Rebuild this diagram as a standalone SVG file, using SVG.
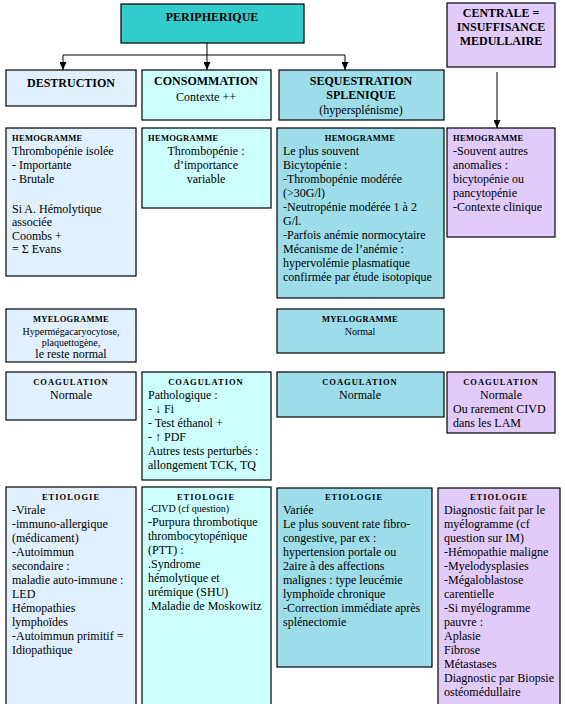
<svg xmlns="http://www.w3.org/2000/svg" width="565" height="704" viewBox="0 0 565 704">
<style>
text{font-family:"Liberation Serif","Times New Roman",serif;fill:#000;}
.b{stroke:#000;stroke-width:1.2;}
.l{fill:#E0F0FF;}
.c{fill:#CCFFFF;}
.s{fill:#9CDDE9;}
.p{fill:#E1CBFA;}
.t{fill:#33CCCC;}
.h{font-size:12px;font-weight:bold;}
.hd{font-size:8.5px;font-weight:bold;letter-spacing:0.3px;}
.hc{font-size:8.5px;font-weight:bold;letter-spacing:1px;}
.n{font-size:12px;}
.sm{font-size:10px;}
.m{text-anchor:middle;}
.ln{stroke:#000;stroke-width:1;fill:none;}
</style>
<defs>
<marker id="arr" markerWidth="8" markerHeight="7" refX="8" refY="3.5" orient="auto" markerUnits="userSpaceOnUse" viewBox="0 0 8 7">
<path d="M0,0 L8,3.5 L0,7 Z" fill="#000"/>
</marker>
</defs>

<g id="connectors">
<path class="ln" d="M207,43 V55"/>
<path class="ln" d="M63,55 H345"/>
<path class="ln" d="M63,55 V70" marker-end="url(#arr)"/>
<path class="ln" d="M207,55 V70" marker-end="url(#arr)"/>
<path class="ln" d="M345,55 V70" marker-end="url(#arr)"/>
<path class="ln" d="M497,72 V128" marker-end="url(#arr)"/>
</g>

<g id="peripherique">
<rect class="b t" x="121" y="4" width="183" height="39"/>
<text class="h m" x="212" y="21">PERIPHERIQUE</text>
</g>
<g id="centrale">
<rect class="b p" x="447" y="3" width="108" height="64"/>
<text class="h m" x="501" y="17">CENTRALE =</text>
<text class="h m" x="501" y="31">INSUFFISANCE</text>
<text class="h m" x="501" y="45">MEDULLAIRE</text>
</g>
<g id="destruction">
<rect class="b l" x="6" y="70" width="130" height="36"/>
<text class="h m" x="71" y="87">DESTRUCTION</text>
</g>
<g id="consommation">
<rect class="b c" x="142" y="70" width="129" height="50"/>
<text class="h m" x="206" y="85">CONSOMMATION</text>
<text class="n m" x="206" y="101">Contexte ++</text>
</g>
<g id="sequestration">
<rect class="b s" x="279" y="70" width="165" height="50"/>
<text class="h m" x="361" y="85">SEQUESTRATION</text>
<text class="h m" x="361" y="99">SPLENIQUE</text>
<text class="n m" x="361" y="114">(hypersplénisme)</text>
</g>

<g id="hemo-destruction">
<rect class="b l" x="6" y="128" width="130" height="148"/>
<text class="hd" x="12" y="141">HEMOGRAMME</text>
<text class="n" x="12" y="155">Thrombopénie isolée</text>
<text class="n" x="12" y="169">- Importante</text>
<text class="n" x="12" y="183">- Brutale</text>
<text class="n" x="12" y="213">Si A. Hémolytique</text>
<text class="n" x="12" y="226">associée</text>
<text class="n" x="12" y="240">Coombs +</text>
<text class="n" x="12" y="253">= Σ Evans</text>
</g>
<g id="hemo-consommation">
<rect class="b c" x="142" y="128" width="129" height="80"/>
<text class="hd" x="148" y="141">HEMOGRAMME</text>
<text class="n m" x="206" y="155">Thrombopénie :</text>
<text class="n m" x="206" y="169">d’importance</text>
<text class="n m" x="206" y="183">variable</text>
</g>
<g id="hemo-sequestration">
<rect class="b s" x="277" y="128" width="167" height="170"/>
<text class="hd m" x="360" y="141">HEMOGRAMME</text>
<text class="n" x="283" y="155">Le plus souvent</text>
<text class="n" x="283" y="169">Bicytopénie :</text>
<text class="n" x="283" y="183">-Thrombopénie modérée</text>
<text class="n" x="283" y="197">(&gt;30G/l)</text>
<text class="n" x="283" y="211">-Neutropénie modérée 1 à 2</text>
<text class="n" x="283" y="225">G/l.</text>
<text class="n" x="283" y="239">-Parfois anémie normocytaire</text>
<text class="n" x="283" y="253">Mécanisme de l’anémie :</text>
<text class="n" x="283" y="267">hypervolémie plasmatique</text>
<text class="n" x="283" y="281">confirmée par étude isotopique</text>
</g>
<g id="hemo-centrale">
<rect class="b p" x="447" y="128" width="108" height="109"/>
<text class="hd" x="453" y="141">HEMOGRAMME</text>
<text class="n" x="453" y="155">-Souvent autres</text>
<text class="n" x="453" y="169">anomalies :</text>
<text class="n" x="453" y="183">bicytopénie ou</text>
<text class="n" x="453" y="197">pancytopénie</text>
<text class="n" x="453" y="211">-Contexte clinique</text>
</g>

<g id="myelo-destruction">
<rect class="b l" x="6" y="309" width="130" height="53"/>
<text class="hd m" x="71" y="322">MYELOGRAMME</text>
<text class="sm m" x="71" y="335">Hypermégacaryocytose,</text>
<text class="sm m" x="71" y="346">plaquettogène,</text>
<text class="n m" x="71" y="358">le reste normal</text>
</g>
<g id="myelo-sequestration">
<rect class="b s" x="277" y="309" width="167" height="44"/>
<text class="hd m" x="360" y="322">MYELOGRAMME</text>
<text class="sm m" x="360" y="335">Normal</text>
</g>

<g id="coag-destruction">
<rect class="b l" x="6" y="372" width="130" height="48"/>
<text class="hc m" x="71" y="385">COAGULATION</text>
<text class="n m" x="71" y="399">Normale</text>
</g>
<g id="coag-consommation">
<rect class="b c" x="142" y="372" width="129" height="108"/>
<text class="hc m" x="206" y="385">COAGULATION</text>
<text class="n" x="148" y="399">Pathologique :</text>
<text class="n" x="148" y="413">- ↓ Fi</text>
<text class="n" x="148" y="427">- Test éthanol +</text>
<text class="n" x="148" y="441">- ↑ PDF</text>
<text class="n" x="148" y="455">Autres tests perturbés :</text>
<text class="n" x="148" y="469">allongement TCK, TQ</text>
</g>
<g id="coag-sequestration">
<rect class="b s" x="277" y="372" width="167" height="45"/>
<text class="hc m" x="360" y="385">COAGULATION</text>
<text class="n m" x="360" y="399">Normale</text>
</g>
<g id="coag-centrale">
<rect class="b p" x="447" y="372" width="108" height="61"/>
<text class="hc m" x="501" y="385">COAGULATION</text>
<text class="n m" x="501" y="399">Normale</text>
<text class="n" x="453" y="413">Ou rarement CIVD</text>
<text class="n" x="453" y="427">dans les LAM</text>
</g>

<g id="etio-destruction">
<rect class="b l" x="6" y="487" width="130" height="220"/>
<text class="hc m" x="71" y="500">ETIOLOGIE</text>
<text class="n" x="12" y="514">-Virale</text>
<text class="n" x="12" y="528">-immuno-allergique</text>
<text class="n" x="12" y="542">(médicament)</text>
<text class="n" x="12" y="556">-Autoimmun</text>
<text class="n" x="12" y="570">secondaire :</text>
<text class="n" x="12" y="584">maladie auto-immune :</text>
<text class="n" x="12" y="598">LED</text>
<text class="n" x="12" y="612">Hémopathies</text>
<text class="n" x="12" y="626">lymphoïdes</text>
<text class="n" x="12" y="640">-Autoimmun primitif =</text>
<text class="n" x="12" y="654">Idiopathique</text>
</g>
<g id="etio-consommation">
<rect class="b c" x="142" y="487" width="129" height="220"/>
<text class="hc m" x="206" y="500">ETIOLOGIE</text>
<text class="sm" x="148" y="512">-CIVD (cf question)</text>
<text class="n" x="148" y="526">-Purpura thrombotique</text>
<text class="n" x="148" y="540">thrombocytopénique</text>
<text class="n" x="148" y="554">(PTT) :</text>
<text class="n" x="148" y="568">.Syndrome</text>
<text class="n" x="148" y="582">hémolytique et</text>
<text class="n" x="148" y="596">urémique (SHU)</text>
<text class="n" x="148" y="610">.Maladie de Moskowitz</text>
</g>
<g id="etio-sequestration">
<rect class="b s" x="277" y="488" width="155" height="179"/>
<text class="hc m" x="354" y="500">ETIOLOGIE</text>
<text class="n" x="283" y="514">Variée</text>
<text class="n" x="283" y="528">Le plus souvent rate fibro-</text>
<text class="n" x="283" y="542">congestive, par ex :</text>
<text class="n" x="283" y="556">hypertension portale ou</text>
<text class="n" x="283" y="570">2aire à des affections</text>
<text class="n" x="283" y="584">malignes : type leucémie</text>
<text class="n" x="283" y="598">lymphoïde chronique</text>
<text class="n" x="283" y="612">-Correction immédiate après</text>
<text class="n" x="283" y="626">splénectomie</text>
</g>
<g id="etio-centrale">
<rect class="b p" x="438" y="488" width="122" height="220"/>
<text class="hc m" x="499" y="500">ETIOLOGIE</text>
<text class="n" x="444" y="514">Diagnostic fait par le</text>
<text class="n" x="444" y="528">myélogramme (cf</text>
<text class="n" x="444" y="542">question sur IM)</text>
<text class="n" x="444" y="556">-Hémopathie maligne</text>
<text class="n" x="444" y="570">-Myelodysplasies</text>
<text class="n" x="444" y="584">-Mégaloblastose</text>
<text class="n" x="444" y="598">carentielle</text>
<text class="n" x="444" y="612">-Si myélogramme</text>
<text class="n" x="444" y="626">pauvre :</text>
<text class="n" x="444" y="640">Aplasie</text>
<text class="n" x="444" y="654">Fibrose</text>
<text class="n" x="444" y="668">Métastases</text>
<text class="n" x="444" y="682">Diagnostic par Biopsie</text>
<text class="n" x="444" y="696">ostéomédullaire</text>
</g>
</svg>
